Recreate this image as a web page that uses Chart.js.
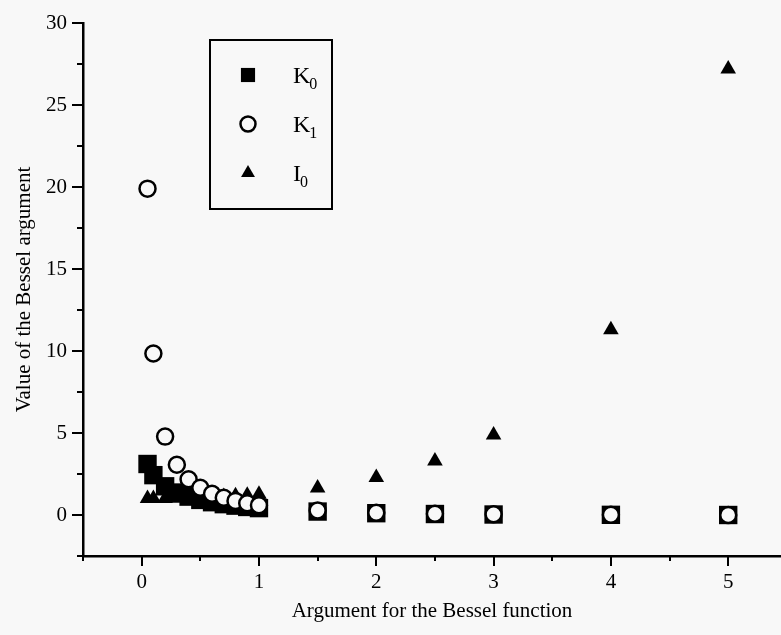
<!DOCTYPE html>
<html>
<head>
<meta charset="utf-8">
<title>Bessel functions</title>
<script src="https://cdn.jsdelivr.net/npm/chart.js@4.4.0/dist/chart.umd.min.js"></script>
<style>
  html, body { margin: 0; padding: 0; background: #f8f8f8; }
  #chart { display: block; }
</style>
</head>
<body>
<canvas id="chart" width="781" height="635"></canvas>
<script>
// arguments and function values
const xArgs  = [0.05, 0.1, 0.2, 0.3, 0.4, 0.5, 0.6, 0.7, 0.8, 0.9, 1.0, 1.5, 2, 2.5, 3, 4, 5];
const k0Vals = [3.11, 2.43, 1.75, 1.37, 1.12, 0.92, 0.78, 0.66, 0.57, 0.49, 0.42, 0.21, 0.11, 0.06, 0.03, 0.01, 0.00];
const k1Vals = [19.9, 9.85, 4.78, 3.06, 2.18, 1.66, 1.30, 1.05, 0.86, 0.72, 0.60, 0.28, 0.14, 0.07, 0.04, 0.01, 0.00];
const i0Vals = [1.00, 1.00, 1.01, 1.02, 1.04, 1.06, 1.09, 1.13, 1.17, 1.21, 1.27, 1.65, 2.28, 3.29, 4.88, 11.3, 27.2];
const seriesNames = ['K0', 'K1', 'I0'];

const xTicks = [-0.5, 0, 0.5, 1, 1.5, 2, 2.5, 3, 3.5, 4, 4.5, 5];
const yTicks = [-2.5, 0, 2.5, 5, 7.5, 10, 12.5, 15, 17.5, 20, 22.5, 25, 27.5, 30];

const FONT = '"Liberation Serif", "Times New Roman", serif';
const PAPER = '#f8f8f8';

function toPoints(vals) {
  return xArgs.map((x, i) => ({ x: x, y: vals[i] }));
}

// short ticks on the half steps, long ones on labelled values
const tickMarks = {
  id: 'tickMarks',
  afterDraw(chart) {
    const { ctx, chartArea, scales: { x, y } } = chart;
    ctx.save();
    ctx.strokeStyle = '#000';
    ctx.lineWidth = 2;
    xTicks.forEach(v => {
      const px = Math.round(x.getPixelForValue(v));
      const len = Number.isInteger(v) ? 10 : 5;
      ctx.beginPath();
      ctx.moveTo(px, chartArea.bottom);
      ctx.lineTo(px, chartArea.bottom + len);
      ctx.stroke();
    });
    yTicks.forEach(v => {
      const py = Math.round(y.getPixelForValue(v));
      const len = v % 5 === 0 ? 11 : 6;
      ctx.beginPath();
      ctx.moveTo(chartArea.left, py);
      ctx.lineTo(chartArea.left - len, py);
      ctx.stroke();
    });
    ctx.restore();
  }
};

// boxed legend inside the plot, names with subscript digits
const boxLegend = {
  id: 'boxLegend',
  afterDraw(chart) {
    const ctx = chart.ctx;
    const box = { x: 210, y: 40, w: 122, h: 169 };
    const sizes = [10, 7.5, 8];
    ctx.save();
    ctx.fillStyle = PAPER;
    ctx.fillRect(box.x, box.y, box.w, box.h);
    ctx.strokeStyle = '#000';
    ctx.lineWidth = 2;
    ctx.strokeRect(box.x, box.y, box.w, box.h);

    chart.data.datasets.forEach((ds, i) => {
      const cy = 75 + i * 49;
      ctx.fillStyle = ds.backgroundColor;
      ctx.strokeStyle = ds.borderColor;
      ctx.lineWidth = ds.borderWidth;
      Chart.helpers.drawPoint(ctx, {
        pointStyle: ds.pointStyle, radius: sizes[i], borderWidth: ds.borderWidth, rotation: 0
      }, 248, cy);

      const name = seriesNames[i];
      ctx.fillStyle = '#000';
      ctx.textBaseline = 'alphabetic';
      ctx.textAlign = 'left';
      ctx.font = '24px ' + FONT;
      ctx.fillText(name[0], 293, cy + 8);
      const w = ctx.measureText(name[0]).width;
      ctx.font = '16px ' + FONT;
      ctx.fillText(name.slice(1), 293 + w - 1, cy + 14);
    });
    ctx.restore();
  }
};

new Chart(document.getElementById('chart'), {
  type: 'scatter',
  data: {
    datasets: [
      {
        label: seriesNames[0],
        data: toPoints(k0Vals),
        pointStyle: 'rect',
        pointRadius: 13,
        backgroundColor: '#000',
        borderColor: '#000',
        borderWidth: 0,
        order: 3
      },
      {
        label: seriesNames[1],
        data: toPoints(k1Vals),
        pointStyle: 'circle',
        pointRadius: 8,
        backgroundColor: PAPER,
        borderColor: '#000',
        borderWidth: 2.5,
        order: 1
      },
      {
        label: seriesNames[2],
        data: toPoints(i0Vals),
        pointStyle: 'triangle',
        pointRadius: 9,
        backgroundColor: '#000',
        borderColor: '#000',
        borderWidth: 0,
        order: 2
      }
    ]
  },
  options: {
    responsive: false,
    animation: false,
    events: [],
    devicePixelRatio: 1,
    layout: { autoPadding: false, padding: { top: 23, right: 0, left: 0, bottom: 0 } },
    plugins: {
      legend: { display: false },
      tooltip: { enabled: false }
    },
    scales: {
      x: {
        type: 'linear',
        min: -0.5,
        max: 5.45,
        afterBuildTicks: s => { s.ticks = xTicks.map(v => ({ value: v })); },
        afterFit: s => { s.height = 79; s.paddingLeft = 0; s.paddingRight = 0; },
        grid: { display: true, drawOnChartArea: false, drawTicks: false },
        border: { display: true, color: '#000', width: 2.5 },
        ticks: {
          autoSkip: false,
          maxRotation: 0,
          padding: 14,
          color: '#000',
          font: { family: FONT, size: 21 },
          callback: v => Number.isInteger(v) ? v : ''
        },
        title: {
          display: true,
          text: 'Argument for the Bessel function',
          color: '#000',
          font: { family: FONT, size: 21 },
          padding: { top: 0, bottom: 11 }
        }
      },
      y: {
        type: 'linear',
        min: -2.5,
        max: 30,
        afterBuildTicks: s => { s.ticks = yTicks.map(v => ({ value: v })); },
        afterFit: s => { s.width = 83; s.paddingTop = 0; s.paddingBottom = 0; },
        grid: { display: true, drawOnChartArea: false, drawTicks: false },
        border: { display: true, color: '#000', width: 2.5 },
        ticks: {
          autoSkip: false,
          padding: 16,
          color: '#000',
          font: { family: FONT, size: 21 },
          callback: v => v % 5 === 0 ? v : ''
        },
        title: {
          display: true,
          text: 'Value of the Bessel argument',
          color: '#000',
          font: { family: FONT, size: 21 },
          padding: { top: 12, bottom: 0 }
        }
      }
    }
  },
  plugins: [tickMarks, boxLegend]
});
</script>
</body>
</html>
